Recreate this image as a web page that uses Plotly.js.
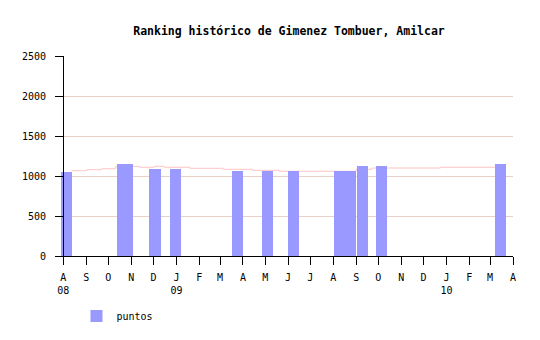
<!DOCTYPE html>
<html>
<head>
<meta charset="utf-8">
<script src="https://cdn.plot.ly/plotly-3.0.1.min.js"></script>
<style>html,body{margin:0;padding:0;background:#fff;}#chart{width:540px;height:340px;}</style>
</head>
<body>
<div id="chart"></div>
<script>
// Bars: "puntos"
const barDates = ['2008-08-05','2008-10-20','2008-10-27','2008-12-03','2008-12-31','2009-03-25','2009-05-04','2009-06-08','2009-08-09','2009-08-24','2009-09-09','2009-10-05','2010-03-15'];
const barValues = [1050,1150,1150,1088,1088,1062,1062,1062,1062,1062,1125,1125,1150];

// Step line (pink)
const lineDates = ['2008-08-12','2008-09-02','2008-09-22','2008-10-11','2008-11-12','2008-12-02','2008-12-16','2009-01-19','2009-03-05','2009-04-14','2009-05-20','2009-09-01','2009-09-22','2009-12-24','2010-03-22'];
const lineValues = [1066,1079,1091,1121,1109,1121,1109,1096,1084,1071,1059,1084,1100,1109,1109];

// Axis ticks
const tickDates = ['2008-08-01','2008-09-01','2008-10-01','2008-11-01','2008-12-01','2009-01-01','2009-02-01','2009-03-01','2009-04-01','2009-05-01','2009-06-01','2009-07-01','2009-08-01','2009-09-01','2009-10-01','2009-11-01','2009-12-01','2010-01-01','2010-02-01','2010-03-01','2010-04-01'];
const tickLabels = ['A<br>08','S','O','N','D','J<br>09','F','M','A','M','J','J','A','S','O','N','D','J<br>10','F','M','A'];
const yTicks = [0,500,1000,1500,2000,2500];

const DAY = 86400000;
const FONT = 'DejaVu Sans Mono, Liberation Mono, monospace';

const traces = [
  {
    type: 'scatter', mode: 'lines',
    x: lineDates, y: lineValues,
    line: {shape: 'hv', color: '#ffc4c4', width: 1},
    showlegend: false, hoverinfo: 'skip',
    xaxis: 'x', yaxis: 'y'
  },
  {
    type: 'bar', name: 'puntos',
    x: barDates, y: barValues,
    width: barDates.map(() => 15 * DAY),
    marker: {color: '#9999ff', line: {width: 0}},
    xaxis: 'x', yaxis: 'y2'
  }
];

const yCommon = {
  range: [0, 2500],
  tickvals: yTicks,
  ticktext: yTicks.map(String)
};

const layout = {
  width: 540, height: 340,
  margin: {l: 61, r: 27, t: 56, b: 84},
  paper_bgcolor: '#ffffff', plot_bgcolor: '#ffffff',
  font: {family: FONT, size: 10, color: '#000'},
  title: {
    text: 'Ranking histórico de Gimenez Tombuer, Amilcar',
    font: {family: FONT, size: 11.5, weight: 'bold', color: '#000'},
    x: 289/540, xref: 'container', xanchor: 'center',
    y: 1 - 31/340, yref: 'container', yanchor: 'middle',
    automargin: false
  },
  barmode: 'overlay',
  bargap: 0,
  showlegend: true,
  legend: {
    orientation: 'h',
    xref: 'container', yref: 'container',
    x: 76.5/540, y: 1 - 316/340, xanchor: 'left', yanchor: 'middle',
    font: {family: FONT, size: 10, color: '#000'},
    bgcolor: 'rgba(0,0,0,0)'
  },
  xaxis: {
    type: 'date',
    automargin: false,
    range: ['2008-07-29', '2010-04-01'],
    tickvals: tickDates, ticktext: tickLabels,
    showgrid: false, zeroline: false,
    showline: true, linecolor: '#000', linewidth: 1,
    ticks: 'outside', ticklen: 8, tickcolor: '#000', tickwidth: 1,
    ticklabelstandoff: 4,
    tickfont: {family: FONT, size: 10, color: '#000'},
    anchor: 'y'
  },
  yaxis: Object.assign({}, yCommon, {
    automargin: false,
    showgrid: true, gridcolor: '#e8d2c8', gridwidth: 1,
    zeroline: false,
    showline: true, linecolor: '#000', linewidth: 1,
    ticks: 'outside', ticklen: 8, tickcolor: '#000', tickwidth: 1,
    ticklabelstandoff: 7,
    tickfont: {family: FONT, size: 10, color: '#000'},
    anchor: 'free', position: 2/452
  }),
  yaxis2: Object.assign({}, yCommon, {
    overlaying: 'y', visible: false, showgrid: false, zeroline: false, automargin: false
  })
};

Plotly.newPlot('chart', traces, layout, {staticPlot: true, displayModeBar: false});
</script>
</body>
</html>
